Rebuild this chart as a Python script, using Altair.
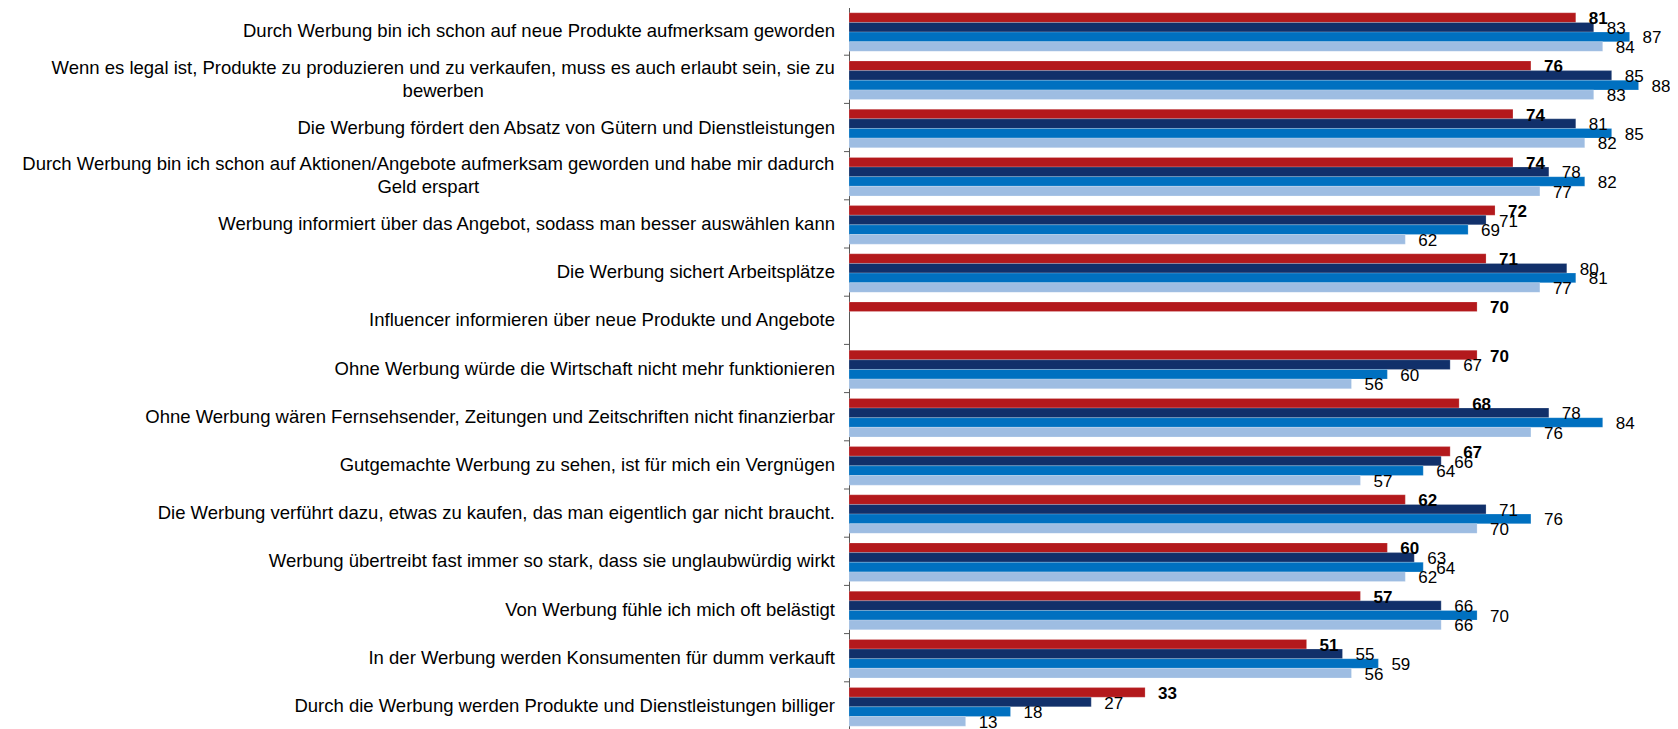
import altair as alt
import pandas as pd

# ---------------- data ----------------
categories = [
    "Durch Werbung bin ich schon auf neue Produkte aufmerksam geworden",
    "Wenn es legal ist, Produkte zu produzieren und zu verkaufen, muss es auch erlaubt sein, sie zu|bewerben",
    "Die Werbung fördert den Absatz von Gütern und Dienstleistungen",
    "Durch Werbung bin ich schon auf Aktionen/Angebote aufmerksam geworden und habe mir dadurch|Geld erspart",
    "Werbung informiert über das Angebot, sodass man besser auswählen kann",
    "Die Werbung sichert Arbeitsplätze",
    "Influencer informieren über neue Produkte und Angebote",
    "Ohne Werbung würde die Wirtschaft nicht mehr funktionieren",
    "Ohne Werbung wären Fernsehsender, Zeitungen und Zeitschriften nicht finanzierbar",
    "Gutgemachte Werbung zu sehen, ist für mich ein Vergnügen",
    "Die Werbung verführt dazu, etwas zu kaufen, das man eigentlich gar nicht braucht.",
    "Werbung übertreibt fast immer so stark, dass sie unglaubwürdig wirkt",
    "Von Werbung fühle ich mich oft belästigt",
    "In der Werbung werden Konsumenten für dumm verkauft",
    "Durch die Werbung werden Produkte und Dienstleistungen billiger",
]

series = ["Reihe 1", "Reihe 2", "Reihe 3", "Reihe 4"]

values_1 = [81, 76, 74, 74, 72, 71, 70, 70, 68, 67, 62, 60, 57, 51, 33]
values_2 = [83, 85, 81, 78, 71, 80, None, 67, 78, 66, 71, 63, 66, 55, 27]
values_3 = [87, 88, 85, 82, 69, 81, None, 60, 84, 64, 76, 64, 70, 59, 18]
values_4 = [84, 83, 82, 77, 62, 77, None, 56, 76, 57, 70, 62, 66, 56, 13]

colors = ["#B3191C", "#11306A", "#0070C0", "#9EBDE2"]

# ------------- text metrics (Arial / Liberation Sans, per 1000 em) ----------
ARIAL = {" ": 278, ",": 278, ".": 278, "/": 278, "-": 333,
         "a": 556, "b": 556, "c": 500, "d": 556, "e": 556, "f": 278, "g": 556,
         "h": 556, "i": 222, "j": 222, "k": 500, "l": 222, "m": 833, "n": 556,
         "o": 556, "p": 556, "q": 556, "r": 333, "s": 500, "t": 278, "u": 556,
         "v": 500, "w": 722, "x": 500, "y": 500, "z": 500,
         "ä": 556, "ö": 556, "ü": 556, "ß": 611,
         "A": 667, "B": 667, "C": 722, "D": 722, "E": 667, "F": 611, "G": 778,
         "H": 722, "I": 278, "J": 500, "K": 667, "L": 556, "M": 833, "N": 722,
         "O": 778, "P": 667, "Q": 778, "R": 722, "S": 667, "T": 611, "U": 722,
         "V": 667, "W": 944, "X": 667, "Y": 667, "Z": 611}

FONT = "Liberation Sans"
CAT_FS = 18.5
LABEL_PAD = 14
LINE_H = 23


def text_width(s, fs):
    return sum(ARIAL.get(ch, 556) for ch in s) * fs / 1000.0


rows = []
for i, cat in enumerate(categories):
    for s, vals in zip(series, [values_1, values_2, values_3, values_4]):
        if vals[i] is not None:
            rows.append({"label": cat, "series": s, "value": vals[i]})
df = pd.DataFrame(rows)
cat_df = pd.DataFrame({"label": categories})

# ---------------- chart ----------------
W, H = 821, 723

y_axis = alt.Axis(ticks=False, labels=False, domain=True, domainColor="#595959",
                  domainWidth=1, grid=False)
y_scale = alt.Scale(paddingInner=0, paddingOuter=0)
y_enc = alt.Y("label:N", sort=categories, title=None, scale=y_scale, axis=y_axis)

yoff = alt.YOffset("series:N", sort=series,
                   scale=alt.Scale(domain=series, paddingInner=0,
                                   paddingOuter=0.5, align=0.6))
x_enc = alt.X("value:Q", scale=alt.Scale(domain=[0, 91.5], nice=False, zero=True),
              axis=None)

bars = alt.Chart(df).mark_bar(stroke="#ffffff", strokeWidth=0.4, strokeOpacity=0.5).encode(
    x=x_enc, y=y_enc, yOffset=yoff,
    color=alt.Color("series:N", scale=alt.Scale(domain=series, range=colors),
                    legend=None),
)

text_red = alt.Chart(df).transform_filter(
    alt.datum.series == series[0]
).mark_text(align="left", baseline="middle", dx=13, dy=1.5, font=FONT,
            fontSize=17, fontWeight="bold", color="#000000").encode(
    x=x_enc, y=y_enc, yOffset=yoff, text=alt.Text("value:Q", format="d"),
)

text_other = alt.Chart(df).transform_filter(
    alt.datum.series != series[0]
).mark_text(align="left", baseline="middle", dx=13, dy=1.5, font=FONT,
            fontSize=17, color="#000000").encode(
    x=x_enc, y=y_enc, yOffset=yoff, text=alt.Text("value:Q", format="d"),
)

tick_marks = alt.Chart(cat_df).mark_rule(color="#595959", strokeWidth=1).encode(
    y=alt.Y("label:N", sort=categories, bandPosition=0, title=None,
            scale=y_scale, axis=y_axis),
    x=alt.value(-5), x2=alt.value(0),
)

# category labels: single-line ones right-aligned, wrapped ones centred
single_labels = alt.Chart(cat_df).transform_filter(
    "indexof(datum.label, '|') < 0"
).mark_text(align="right", baseline="middle", font=FONT, fontSize=CAT_FS,
            color="#000000").encode(
    x=alt.value(-LABEL_PAD), y=y_enc, text="label:N",
)

layers = [bars, tick_marks, single_labels, text_red, text_other]

for cat in categories:
    if "|" in cat:
        first = cat.split("|")[0]
        centre = -(LABEL_PAD + text_width(first, CAT_FS) / 2.0)
        layers.append(
            alt.Chart(pd.DataFrame({"label": [cat]})).mark_text(
                align="center", baseline="middle", lineBreak="|",
                lineHeight=LINE_H, dy=-LINE_H / 2.0, font=FONT,
                fontSize=CAT_FS, color="#000000",
            ).encode(x=alt.value(centre), y=y_enc, text="label:N")
        )

chart = alt.layer(*layers).properties(
    width=W, height=H,
    autosize=alt.AutoSizeParams(type="none"),
    padding={"left": 841, "top": -1, "right": 0, "bottom": -1},
    background="#ffffff",
).configure_view(stroke=None)

chart.save("out.html", embed_options={"renderer": "svg", "actions": False})
